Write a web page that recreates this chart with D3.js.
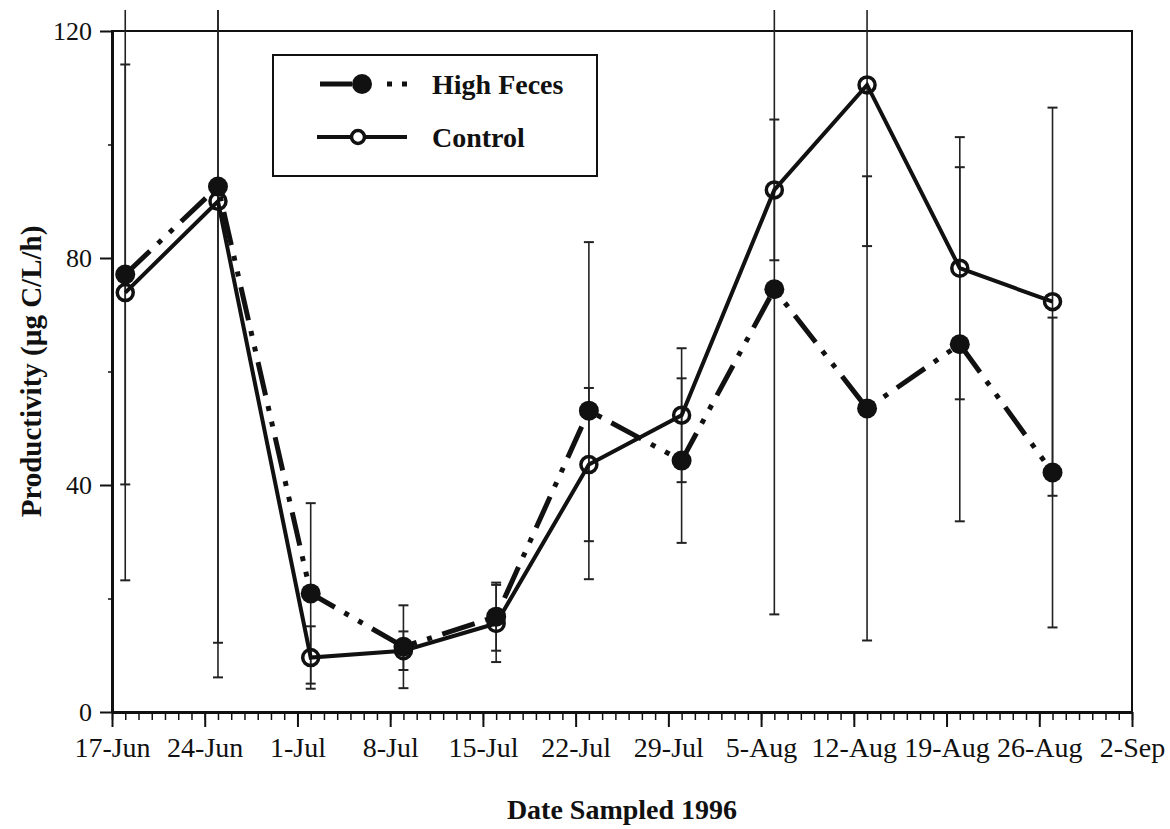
<!DOCTYPE html>
<html>
<head>
<meta charset="utf-8">
<script src="https://cdn.jsdelivr.net/npm/d3@7"></script>
<style>
    body { margin: 0; background: #fff; }
    text { font-family: "Liberation Serif", "Times New Roman", serif; fill: #111; }
</style>
</head>
<body>
<div class="chart"></div>
<script>
//Data
var sampleDates = ["18-Jun", "25-Jun", "2-Jul", "9-Jul", "16-Jul", "23-Jul", "30-Jul", "6-Aug", "13-Aug", "20-Aug", "27-Aug"];
var highFeces = [77.1, 92.6, 20.9, 11.5, 16.8, 53.1, 44.3, 74.5, 53.5, 64.8, 42.2];
var highFecesErr = [37, 80.4, 15.9, 7.3, 6, 29.7, 14.5, 57.3, 40.9, 31.2, 27.3];
var control = [73.9, 90.0, 9.6, 10.8, 15.6, 43.6, 52.3, 92.0, 110.5, 78.2, 72.3];
var controlErr = [50.7, 83.9, 5.5, 3.4, 6.8, 13.5, 11.8, 12.4, 28.4, 23.1, 34.2];
var yTicks = [0, 40, 80, 120];
var yMinorTicks = [20, 60, 100];
var seriesNames = ["High Feces", "Control"];

//Width and height
var w = 1170;
var h = 829;
var plotLeft = 112, plotRight = 1132, plotTop = 31, plotBottom = 712;

var parseDate = d3.timeParse("%d-%b-%Y");
var dates = sampleDates.map(d => parseDate(d + "-1996"));

//Create SVG element
var svg = d3.select(".chart")
    .append("svg")
    .attr("width", w)
    .attr("height", h);

//Scales
var x = d3.scaleTime()
    .domain([parseDate("17-Jun-1996"), parseDate("2-Sep-1996")])
    .range([plotLeft, plotRight]);

var y = d3.scaleLinear()
    .domain([0, 120])
    .range([plotBottom, plotTop]);

//Clip for the error bars that run off the top
svg.append("clipPath")
    .attr("id", "clip")
    .append("rect")
    .attr("x", 0)
    .attr("y", 10)
    .attr("width", w)
    .attr("height", h);

//Frame
svg.append("rect")
    .attr("x", plotLeft)
    .attr("y", plotTop)
    .attr("width", plotRight - plotLeft)
    .attr("height", plotBottom - plotTop)
    .attr("fill", "none")
    .attr("stroke", "#111")
    .attr("stroke-width", 2);

//Y axis
svg.append("g")
    .attr("transform", "translate(" + plotLeft + ",0)")
    .call(d3.axisLeft(y).tickValues(yMinorTicks).tickSize(4).tickFormat(""))
    .call(g => g.select(".domain").remove())
    .call(g => g.selectAll("line").attr("stroke", "#111").attr("stroke-width", 1.5));

svg.append("g")
    .attr("transform", "translate(" + plotLeft + ",0)")
    .call(d3.axisLeft(y).tickValues(yTicks).tickSize(12).tickPadding(8).tickSizeOuter(0))
    .call(g => g.select(".domain").attr("stroke", "#111").attr("stroke-width", 3))
    .call(g => g.selectAll("line").attr("stroke", "#111").attr("stroke-width", 2))
    .call(g => g.selectAll("text").attr("font-size", 26).attr("font-family", "Liberation Serif").attr("fill", "#111"));

//X axis, daily minor ticks and weekly major ticks
svg.append("g")
    .attr("transform", "translate(0," + plotBottom + ")")
    .call(d3.axisBottom(x).ticks(d3.timeDay.every(1)).tickSize(8).tickFormat(""))
    .call(g => g.select(".domain").remove())
    .call(g => g.selectAll("line").attr("stroke", "#111").attr("stroke-width", 1.5));

svg.append("g")
    .attr("transform", "translate(0," + plotBottom + ")")
    .call(d3.axisBottom(x)
        .tickValues(d3.timeDay.range(x.domain()[0], d3.timeDay.offset(x.domain()[1], 1), 7))
        .tickSize(15)
        .tickPadding(10)
        .tickSizeOuter(0)
        .tickFormat(d3.timeFormat("%-d-%b")))
    .call(g => g.select(".domain").attr("stroke", "#111").attr("stroke-width", 3))
    .call(g => g.selectAll("line").attr("stroke", "#111").attr("stroke-width", 2))
    .call(g => g.selectAll("text").attr("font-size", 28).attr("font-family", "Liberation Serif").attr("fill", "#111"));

//Axis titles
svg.append("text")
    .attr("x", (plotLeft + plotRight) / 2)
    .attr("y", 819)
    .attr("text-anchor", "middle")
    .attr("font-size", 28)
    .attr("font-weight", "bold")
    .text("Date Sampled 1996");

svg.append("text")
    .attr("transform", "translate(41," + ((plotTop + plotBottom) / 2) + ") rotate(-90)")
    .attr("text-anchor", "middle")
    .attr("font-size", 29)
    .attr("font-weight", "bold")
    .text("Productivity (µg C/L/h)");

//Error bars
var bars = [];
dates.forEach((d, i) => {
    bars.push({ date: d, v: highFeces[i], e: highFecesErr[i] });
    bars.push({ date: d, v: control[i], e: controlErr[i] });
});

var errG = svg.append("g").attr("clip-path", "url(#clip)");

errG.selectAll(".err")
    .data(bars)
    .join("line")
    .attr("class", "err")
    .attr("x1", d => x(d.date))
    .attr("x2", d => x(d.date))
    .attr("y1", d => y(d.v + d.e))
    .attr("y2", d => y(d.v - d.e))
    .attr("stroke", "#222")
    .attr("stroke-width", 1.6);

errG.selectAll(".cap")
    .data(bars.flatMap(b => [{ date: b.date, v: b.v + b.e }, { date: b.date, v: b.v - b.e }]))
    .join("line")
    .attr("class", "cap")
    .attr("x1", d => x(d.date) - 5)
    .attr("x2", d => x(d.date) + 5)
    .attr("y1", d => y(d.v))
    .attr("y2", d => y(d.v))
    .attr("stroke", "#222")
    .attr("stroke-width", 2);

//Lines
var hfDash = "34 11 5 11 5 11";

var line = d3.line()
    .x((d, i) => x(dates[i]))
    .y(d => y(d));

svg.append("path")
    .attr("d", line(control))
    .attr("fill", "none")
    .attr("stroke", "#111")
    .attr("stroke-width", 4);

svg.append("path")
    .attr("d", line(highFeces))
    .attr("fill", "none")
    .attr("stroke", "#111")
    .attr("stroke-width", 5)
    .attr("stroke-dasharray", hfDash);

//Markers
svg.selectAll(".hf")
    .data(highFeces)
    .join("circle")
    .attr("class", "hf")
    .attr("cx", (d, i) => x(dates[i]))
    .attr("cy", d => y(d))
    .attr("r", 10)
    .attr("fill", "#111");

svg.selectAll(".ctl")
    .data(control)
    .join("circle")
    .attr("class", "ctl")
    .attr("cx", (d, i) => x(dates[i]))
    .attr("cy", d => y(d))
    .attr("r", 8)
    .attr("fill", "none")
    .attr("stroke", "#111")
    .attr("stroke-width", 3.5);

//Legend
var legend = svg.append("g")
    .attr("id", "legend")
    .attr("transform", "translate(273, 55)");

legend.append("rect")
    .attr("width", 324)
    .attr("height", 121)
    .attr("fill", "#fff")
    .attr("stroke", "#111")
    .attr("stroke-width", 2);

legend.append("line")
    .attr("x1", 47).attr("x2", 135)
    .attr("y1", 29).attr("y2", 29)
    .attr("stroke", "#111")
    .attr("stroke-width", 5)
    .attr("stroke-dasharray", "32 35 5 10 5 20");

legend.append("circle")
    .attr("cx", 89).attr("cy", 29).attr("r", 10)
    .attr("fill", "#111");

legend.append("line")
    .attr("x1", 44).attr("x2", 134)
    .attr("y1", 82).attr("y2", 82)
    .attr("stroke", "#111")
    .attr("stroke-width", 4);

legend.append("circle")
    .attr("cx", 85).attr("cy", 82).attr("r", 6.5)
    .attr("fill", "#fff")
    .attr("stroke", "#111")
    .attr("stroke-width", 3.5);

legend.selectAll(".label")
    .data(seriesNames)
    .join("text")
    .attr("class", "label")
    .attr("x", 159)
    .attr("y", (d, i) => 39 + i * 53)
    .attr("font-size", 28)
    .attr("font-weight", "bold")
    .text(d => d);
</script>
</body>
</html>
